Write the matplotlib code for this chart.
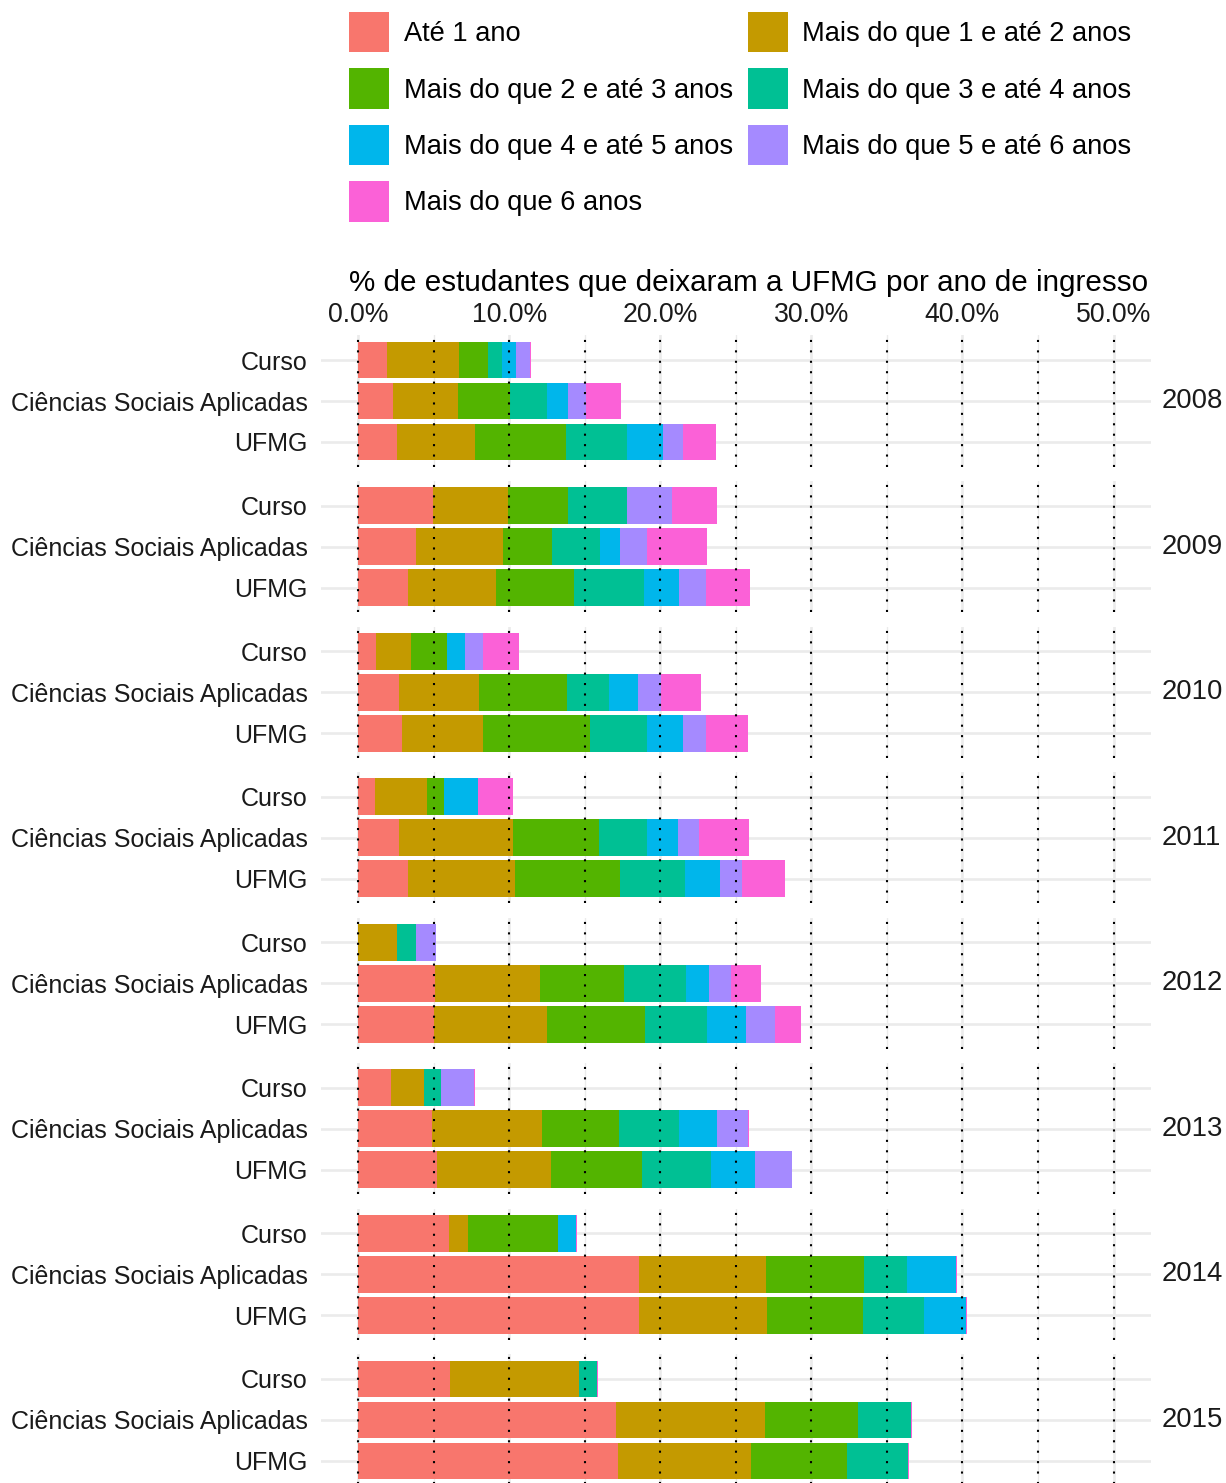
import numpy as np
import matplotlib
matplotlib.use("Agg")
import matplotlib.pyplot as plt
from matplotlib.patches import Rectangle

plt.rcParams['font.family'] = ['Liberation Sans', 'DejaVu Sans']

# categories of time until leaving, in stacking order
categories = [
    "Até 1 ano",
    "Mais do que 1 e até 2 anos",
    "Mais do que 2 e até 3 anos",
    "Mais do que 3 e até 4 anos",
    "Mais do que 4 e até 5 anos",
    "Mais do que 5 e até 6 anos",
    "Mais do que 6 anos",
]
colors = ["#F8766D", "#C49A00", "#53B400", "#00C094", "#00B6EB", "#A58AFF", "#FB61D7"]
groups = ["Curso", "Ciências Sociais Aplicadas", "UFMG"]
years = [2008, 2009, 2010, 2011, 2012, 2013, 2014, 2015]

# % of students per year of entry, rows = groups, cols = categories
pct_2008 = [[1.90, 4.77, 1.90, 0.95, 0.93, 0.93, 0.07],
            [2.30, 4.30, 3.44, 2.48, 1.37, 1.19, 2.32],
            [2.56, 5.17, 6.02, 4.06, 2.37, 1.34, 2.17]]
pct_2009 = [[4.97, 4.92, 3.97, 3.93, 0.00, 2.98, 2.98],
            [3.82, 5.76, 3.25, 3.17, 1.33, 1.79, 3.97],
            [3.29, 5.83, 5.16, 4.64, 2.32, 1.78, 2.92]]
pct_2010 = [[1.15, 2.34, 2.38, 0.00, 1.19, 1.19, 2.38],
            [2.69, 5.30, 5.83, 2.78, 1.92, 1.55, 2.62],
            [2.87, 5.39, 7.06, 3.80, 2.38, 1.52, 2.79]]
pct_2011 = [[1.10, 3.45, 1.10, 0.00, 2.25, 0.00, 2.34],
            [2.69, 7.55, 5.70, 3.18, 2.05, 1.39, 3.31],
            [3.27, 7.11, 6.93, 4.32, 2.32, 1.46, 2.85]]
pct_2012 = [[0.00, 2.56, 0.00, 1.26, 0.00, 1.30, 0.03],
            [5.08, 6.95, 5.54, 4.11, 1.55, 1.46, 1.99],
            [4.99, 7.51, 6.49, 4.11, 2.56, 1.94, 1.70]]
pct_2013 = [[2.16, 2.21, 0.00, 1.10, 0.00, 2.21, 0.03],
            [4.86, 7.30, 5.10, 3.98, 2.51, 2.08, 0.03],
            [5.21, 7.55, 6.00, 4.60, 2.91, 2.43, 0.03]]
pct_2014 = [[6.00, 1.27, 5.95, 0.00, 1.19, 0.00, 0.05],
            [18.59, 8.38, 6.49, 2.86, 3.25, 0.00, 0.05],
            [18.59, 8.46, 6.36, 4.05, 2.76, 0.00, 0.05]]
pct_2015 = [[6.08, 8.55, 0.00, 1.19, 0.00, 0.00, 0.03],
            [17.06, 9.87, 6.18, 3.47, 0.00, 0.00, 0.05],
            [17.22, 8.78, 6.35, 4.03, 0.00, 0.00, 0.05]]

data = {2008: pct_2008, 2009: pct_2009, 2010: pct_2010, 2011: pct_2011,
        2012: pct_2012, 2013: pct_2013, 2014: pct_2014, 2015: pct_2015}

W, H = 1226, 1483
fig = plt.figure(figsize=(W / 100, H / 100), dpi=100)

TXT = "#1A1A1A"
GRID = "#EBEBEB"

# panel geometry in pixels
x0, x1 = 320.5, 1151.3
panel_top0 = 335.4
panel_h = 131.2
panel_step = 145.57

for i, year in enumerate(years):
    top = panel_top0 + i * panel_step
    ax = fig.add_axes([x0 / W, 1 - (top + panel_h) / H, (x1 - x0) / W, panel_h / H])
    vals = np.array(data[year])
    ypos = np.arange(1, len(groups) + 1)

    for y in ypos:
        ax.axhline(y, color=GRID, lw=1.9, zorder=0)
    for x in range(0, 51, 10):
        ax.axvline(x, color=GRID, lw=1.9, zorder=0)
    for x in range(5, 50, 10):
        ax.axvline(x, color=GRID, lw=0.95, zorder=0)

    left = np.zeros(len(groups))
    for k, cat in enumerate(categories):
        ax.barh(ypos, vals[:, k], left=left, height=0.9, color=colors[k],
                linewidth=0, zorder=2)
        left += vals[:, k]

    for x in range(0, 51, 5):
        ax.axvline(x, color="black", lw=1.5, linestyle=(0, (1, 4)),
                   dash_capstyle="butt", zorder=3)

    ax.set_xlim(-2.5, 52.5)
    ax.set_ylim(3.6, 0.4)
    ax.set_yticks(ypos)
    ax.set_yticklabels(groups, fontsize=18.0, color=TXT)
    ax.tick_params(axis="y", length=0, pad=9)
    for s in ax.spines.values():
        s.set_visible(False)

    if i == 0:
        ax.xaxis.tick_top()
        ax.set_xticks(range(0, 51, 10))
        ax.set_xticklabels([f"{v:.1f}%" for v in range(0, 51, 10)],
                           fontsize=19.2, color=TXT)
        ax.tick_params(axis="x", length=0, pad=5)
    else:
        ax.set_xticks([])

    ax.annotate(str(year), xy=(1, 0.5), xycoords="axes fraction",
                xytext=(7.7, 0), textcoords="offset points",
                ha="left", va="center", fontsize=19.8, color=TXT)

fig.text(749 / W, 1 - 283 / H,
         "% de estudantes que deixaram a UFMG por ano de ingresso",
         ha="center", va="center", fontsize=21.3, color="black")

# legend, two columns filled row by row
col_key_x = [349, 748]
col_txt_x = [404, 802]
row_y = [32, 88.5, 145, 201.5]
for k, cat in enumerate(categories):
    r, c = divmod(k, 2)
    cy = row_y[r]
    fig.add_artist(Rectangle((col_key_x[c] / W, 1 - (cy + 20) / H), 40 / W, 40 / H,
                             transform=fig.transFigure, color=colors[k], lw=0))
    fig.text(col_txt_x[c] / W, 1 - (cy + 2) / H, cat, ha="left", va="center",
             fontsize=19.6, color="black")

fig.savefig("out.png", dpi=100, facecolor="white")
